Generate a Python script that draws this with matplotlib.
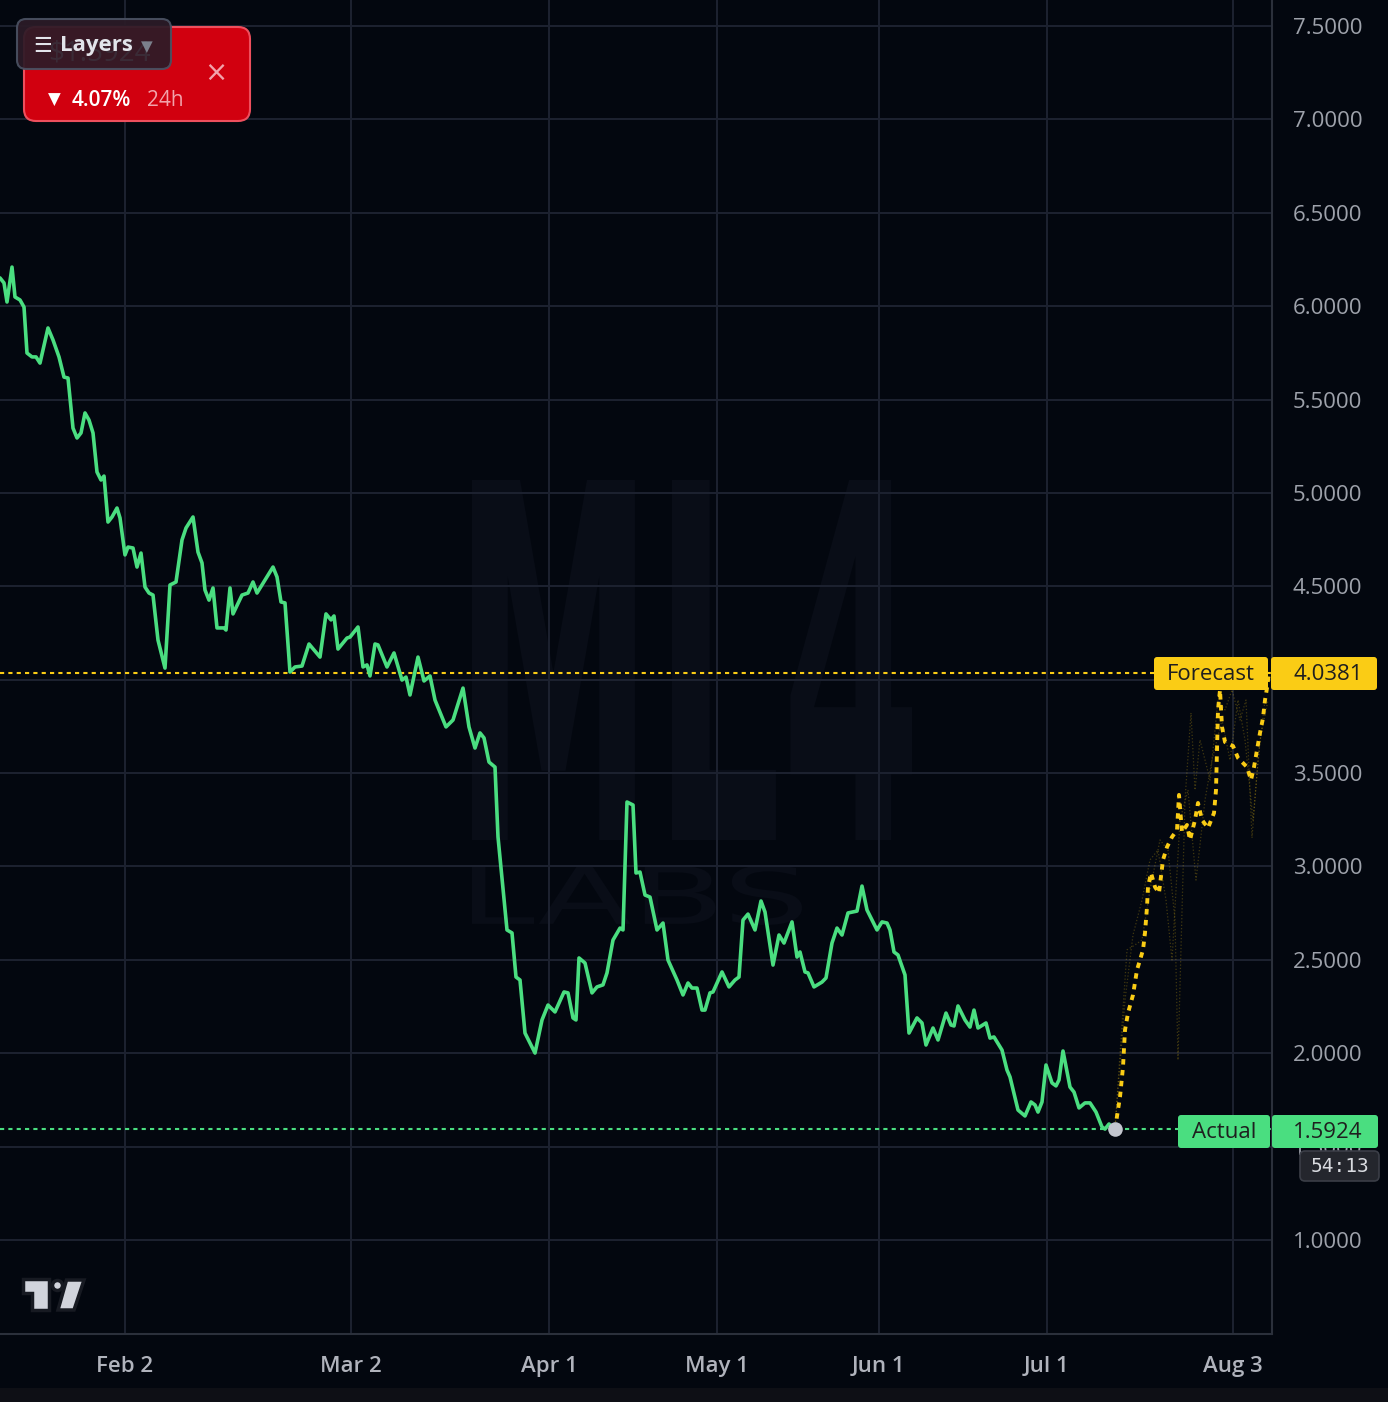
import matplotlib
matplotlib.use("Agg")
import matplotlib.pyplot as plt
from matplotlib.patches import FancyBboxPatch, Rectangle, Circle, Polygon, PathPatch
from matplotlib.textpath import TextPath
from matplotlib.font_manager import FontProperties
from matplotlib.transforms import Affine2D

plt.rcParams['font.family'] = ['Open Sans', 'DejaVu Sans']

# ---------------- data (x = bar position on the time axis) ----------------
tick_pos = [125, 351, 549, 717, 879, 1047, 1233]
tick_labels = ["Feb 2", "Mar 2", "Apr 1", "May 1", "Jun 1", "Jul 1", "Aug 3"]
y_ticks = [1.0, 1.5, 2.0, 2.5, 3.0, 3.5, 4.0, 4.5, 5.0, 5.5, 6.0, 6.5, 7.0, 7.5]

actual_x = [0, 4, 7, 12, 15, 20, 24, 27, 32, 36, 40, 48, 53, 59, 64, 68, 73, 77, 81, 85,
            89, 93, 97, 101, 104, 108, 112, 117, 120, 125, 128, 133, 137, 141, 145, 149, 153, 158, 165, 170,
            176, 182, 186, 193, 198, 202, 205, 209, 213, 217, 224, 226, 230, 233, 242, 248, 253, 257, 273, 277,
            281, 285, 290, 295, 302, 309, 320, 326, 331, 334, 338, 347, 350, 358, 363, 367, 370, 375, 378, 387,
            394, 402, 406, 410, 418, 424, 430, 435, 446, 453, 463, 469, 475, 480, 484, 489, 495, 498, 507, 512,
            516, 520, 525, 535, 542, 548, 555, 564, 568, 573, 576, 579, 585, 592, 597, 603, 607, 613, 620, 623,
            627, 633, 636, 640, 645, 650, 657, 663, 668, 677, 683, 688, 692, 697, 702, 705, 710, 713, 722, 729,
            735, 739, 743, 748, 755, 761, 765, 773, 779, 784, 792, 797, 800, 805, 808, 814, 822, 826, 832, 837,
            842, 848, 857, 862, 867, 872, 877, 882, 887, 890, 894, 898, 905, 909, 917, 922, 926, 933, 938, 946,
            951, 954, 958, 965, 970, 974, 978, 986, 990, 994, 1002, 1007, 1010, 1018, 1025, 1031, 1035, 1038, 1042, 1046,
            1052, 1056, 1059, 1063, 1070, 1074, 1079, 1085, 1090, 1096, 1102, 1105, 1109, 1115]
actual_y = [6.151, 6.124, 6.022, 6.209, 6.049, 6.033, 5.995, 5.749, 5.728, 5.728, 5.695, 5.883, 5.819, 5.728, 5.620, 5.615, 5.347, 5.294, 5.321, 5.428,
            5.390, 5.321, 5.112, 5.069, 5.090, 4.844, 4.871, 4.919, 4.866, 4.668, 4.710, 4.705, 4.603, 4.678, 4.496, 4.464, 4.453, 4.212, 4.062, 4.507,
            4.523, 4.748, 4.812, 4.871, 4.683, 4.625, 4.480, 4.426, 4.491, 4.277, 4.277, 4.266, 4.491, 4.352, 4.453, 4.464, 4.523, 4.464, 4.603, 4.550,
            4.416, 4.411, 4.041, 4.068, 4.073, 4.191, 4.121, 4.352, 4.320, 4.341, 4.164, 4.223, 4.228, 4.282, 4.068, 4.079, 4.020, 4.191, 4.186, 4.068,
            4.143, 3.998, 4.014, 3.918, 4.121, 3.993, 4.020, 3.891, 3.747, 3.784, 3.955, 3.747, 3.634, 3.715, 3.688, 3.559, 3.532, 3.158, 2.660, 2.644,
            2.408, 2.392, 2.108, 2.001, 2.178, 2.258, 2.221, 2.328, 2.323, 2.189, 2.178, 2.510, 2.483, 2.323, 2.355, 2.366, 2.430, 2.606, 2.670, 2.660,
            3.345, 3.329, 2.965, 2.970, 2.847, 2.836, 2.660, 2.697, 2.499, 2.392, 2.312, 2.376, 2.349, 2.349, 2.231, 2.231, 2.323, 2.328, 2.435, 2.355,
            2.392, 2.408, 2.713, 2.745, 2.660, 2.815, 2.756, 2.472, 2.633, 2.590, 2.703, 2.515, 2.542, 2.435, 2.430, 2.355, 2.381, 2.403, 2.590, 2.670,
            2.633, 2.751, 2.761, 2.895, 2.767, 2.713, 2.660, 2.703, 2.697, 2.660, 2.542, 2.526, 2.419, 2.108, 2.189, 2.162, 2.044, 2.135, 2.071, 2.215,
            2.151, 2.146, 2.253, 2.178, 2.140, 2.231, 2.135, 2.162, 2.081, 2.087, 2.017, 1.910, 1.873, 1.696, 1.664, 1.739, 1.723, 1.685, 1.739, 1.937,
            1.841, 1.825, 1.857, 2.012, 1.819, 1.792, 1.707, 1.734, 1.734, 1.685, 1.605, 1.594, 1.621, 1.5924]

forecast_x = [1115, 1120, 1123, 1125, 1128, 1133, 1137, 1140, 1143, 1145, 1147, 1148, 1151, 1155, 1159, 1163, 1167, 1172, 1177, 1179,
              1182, 1187, 1190, 1195, 1198, 1202, 1208, 1214, 1216, 1217, 1218, 1220, 1222, 1225, 1233, 1238, 1247, 1251, 1254, 1257,
              1260, 1263, 1265, 1267, 1269]
forecast_y = [1.5924, 1.766, 1.926, 2.124, 2.215, 2.312, 2.446, 2.499, 2.553, 2.644, 2.783, 2.890, 2.965, 2.890, 2.858, 3.035, 3.104, 3.158, 3.195, 3.383,
              3.184, 3.222, 3.142, 3.249, 3.340, 3.249, 3.206, 3.286, 3.409, 3.624, 3.838, 3.945, 3.747, 3.666, 3.645, 3.581, 3.532, 3.463, 3.532, 3.624,
              3.715, 3.795, 3.891, 3.955, 4.0381]

ens_a_x = [1115, 1127, 1135, 1142, 1150, 1160, 1168, 1175, 1178, 1185, 1191, 1195, 1200, 1210, 1218, 1225, 1232, 1240, 1246, 1252, 1258, 1265]
ens_a_y = [1.597, 2.553, 2.580, 2.606, 2.874, 3.142, 3.088, 2.713, 1.964, 3.356, 3.822, 3.409, 3.677, 3.463, 3.891, 3.838, 3.945, 3.784, 3.891, 3.153, 3.570, 3.891]
ens_b_x = [1115, 1125, 1133, 1142, 1150, 1158, 1166, 1172, 1180, 1188, 1196, 1205, 1212, 1222, 1230, 1238, 1245, 1253, 1260, 1268]
ens_b_y = [1.597, 2.285, 2.633, 2.820, 3.035, 3.088, 2.820, 2.499, 3.249, 3.409, 2.927, 3.356, 3.570, 3.784, 3.570, 3.891, 3.677, 3.249, 3.677, 3.891]

forecast_last = 4.0381
actual_last = 1.5924
change_text = "4.07%"
timer_text = "54:13"

# ---------------- styling ----------------
BG = "#03070f"
GRID = "#1d2230"
GREEN = "#4ade80"
YELLOW = "#facc15"
W, H = 1388, 1402

fig = plt.figure(figsize=(W / 100, H / 100), dpi=100)
fig.patch.set_facecolor(BG)

ax = fig.add_axes([0, (H - 1334) / H, 1272 / W, 1334 / H])
ax.set_facecolor(BG)
ax.set_xlim(0, 1272)
ax.set_ylim(0.4967, 7.639)

ax_ui = fig.add_axes([0, 0, 1, 1])
ax_ui.set_xlim(0, W)
ax_ui.set_ylim(H, 0)
ax_ui.axis("off")
ax_ui.set_zorder(10)
ax_ui.patch.set_alpha(0)

# grid & axes (4.0000 label is fully covered by the forecast tag in the reference)
ax.set_yticks(y_ticks)
ax.set_yticklabels(["" if abs(v - 4.0) < 1e-9 else f"{v:.4f}" for v in y_ticks])
ax.set_xticks(tick_pos)
ax.set_xticklabels(tick_labels)
ax.grid(True, color=GRID, lw=1.4)
ax.set_axisbelow(True)
ax.yaxis.tick_right()
ax.tick_params(axis="y", length=0, pad=15, labelsize=16, labelcolor="#9ea2ab")
ax.tick_params(axis="x", length=0, pad=15.5, labelsize=16, labelcolor="#b0b3bc")
for lbl in ax.get_xticklabels():
    lbl.set_fontweight("semibold")
for s in ["top", "left"]:
    ax.spines[s].set_visible(False)
for s in ["right", "bottom"]:
    ax.spines[s].set_color("#2b303b")
    ax.spines[s].set_linewidth(1.5)

# watermark
wm_color = "#090d17"
fp_b = FontProperties(family="DejaVu Sans", weight="bold")
tp = TextPath((0, 0), "ML4", size=1, prop=fp_b)
ext = tp.get_extents()
sx = 440 / ext.width
sy = 360 / ext.height
tr = Affine2D().translate(-ext.x0, -ext.y0).scale(sx, -sy).translate(472, 840) + ax_ui.transData
ax.add_patch(PathPatch(tp, transform=tr, fc=wm_color, ec="none", zorder=0.3))
tp2 = TextPath((0, 0), "LABS", size=1, prop=FontProperties(family="DejaVu Sans"))
ext2 = tp2.get_extents()
tr2 = Affine2D().translate(-ext2.x0, -ext2.y0).scale(330 / ext2.width, -60 / ext2.height).translate(472, 925) + ax_ui.transData
ax.add_patch(PathPatch(tp2, transform=tr2, fc=wm_color, ec="none", zorder=0.3))

# price lines
ax.axhline(forecast_last, color=YELLOW, lw=1.5, dashes=(2, 2), zorder=3)
ax.axhline(actual_last, color=GREEN, lw=1.5, dashes=(2, 2), zorder=3)

# ensemble faint lines
ax.plot(ens_a_x, ens_a_y, color=YELLOW, lw=0.9, ls=":", alpha=0.25, zorder=3)
ax.plot(ens_b_x, ens_b_y, color=YELLOW, lw=0.9, ls=":", alpha=0.25, zorder=3)

# main series
ax.plot(actual_x, actual_y, color=GREEN, lw=2.6, solid_joinstyle="round", solid_capstyle="round", zorder=4)
ax.plot(forecast_x, forecast_y, color=YELLOW, lw=2.8, dashes=(1.4, 1.4), zorder=5)
ax.scatter([actual_x[-1]], [actual_y[-1]], s=110, color="#c3c6cf", zorder=6, linewidths=0)

# ---------------- UI overlay ----------------
def box(x0, y0, x1, y1, fc, ec="none", lw=0, r=3, alpha=1.0, z=1):
    p = FancyBboxPatch((x0, y0), x1 - x0, y1 - y0, boxstyle=f"round,pad=0,rounding_size={r}",
                       fc=fc, ec=ec, lw=lw, alpha=alpha, zorder=z)
    ax_ui.add_patch(p)
    return p

# price labels
box(1154, 657, 1268, 690, YELLOW)
box(1271, 657, 1377, 690, YELLOW)
ax_ui.text(1211, 675, "Forecast", ha="center", va="center", fontsize=16, color="#1f1f1f", zorder=3)
ax_ui.text(1328, 675, f"{forecast_last:.4f}", ha="center", va="center", fontsize=16, color="#1f1f1f", zorder=3)

box(1178, 1115, 1270, 1148, GREEN)
box(1272, 1115, 1378, 1148, GREEN)
ax_ui.text(1224, 1133, "Actual", ha="center", va="center", fontsize=16, color="#1f1f1f", zorder=3)
ax_ui.text(1328, 1133, f"{actual_last:.4f}", ha="center", va="center", fontsize=16, color="#1f1f1f", zorder=3)

box(1300, 1151, 1379, 1181, "#24262d", ec="#3b3e47", lw=1.2, r=5)
ax_ui.text(1340, 1166, timer_text, ha="center", va="center", fontsize=14, color="#d9dbe0",
           family=["DejaVu Sans Mono"], zorder=3)

# red change card
box(24, 27, 250, 121, "#d1000f", ec="#ee4f5d", lw=1.5, r=12)
ax_ui.text(48, 54, "$1.5924", ha="left", va="center", fontsize=20, color="#ffffff", zorder=2)
ax_ui.text(48, 100, "▼", ha="left", va="center", fontsize=12, color="#ffffff", family=["DejaVu Sans"], zorder=3)
ax_ui.text(72, 100, change_text, ha="left", va="center", fontsize=15, color="#ffffff", fontweight="semibold", zorder=3)
ax_ui.text(147, 100, "24h", ha="left", va="center", fontsize=15, color="#f2a3ab", zorder=3)
ax_ui.text(216, 73, "×", ha="center", va="center", fontsize=20, color="#f2a3ab", family=["DejaVu Sans"], zorder=3)

# layers button
box(17, 19, 171, 69, "#2b1b27", ec="#4a5162", lw=1.5, r=9, alpha=0.93, z=4)
ax_ui.text(33, 46, "☰", ha="left", va="center", fontsize=15, color="#e2e4ea", family=["DejaVu Sans"], zorder=5)
ax_ui.text(60, 46, "Layers", ha="left", va="center", fontsize=16, color="#e2e4ea", fontweight="bold", zorder=5)
ax_ui.text(147, 47, "▼", ha="center", va="center", fontsize=11, color="#7b808c", family=["DejaVu Sans"], zorder=5)

# TradingView logo
logo_fc = "#d1d4dc"
logo_ec = "#171a22"
ax_ui.add_patch(Polygon([(23, 1279), (49, 1279), (49, 1310), (32, 1310), (32, 1293), (23, 1293)],
                        closed=True, fc=logo_fc, ec=logo_ec, lw=2.5, zorder=3))
ax_ui.add_patch(Circle((57.5, 1285.5), 5, fc=logo_fc, ec=logo_ec, lw=2.5, zorder=3))
ax_ui.add_patch(Polygon([(66.5, 1280), (84, 1280), (74, 1310), (58, 1310)],
                        closed=True, fc=logo_fc, ec=logo_ec, lw=2.5, zorder=3))

# bottom strip
ax_ui.add_patch(Rectangle((0, 1388), W, 14, fc="#0e0f15", ec="none", zorder=1))

fig.savefig("out.png", dpi=100, facecolor=BG)
